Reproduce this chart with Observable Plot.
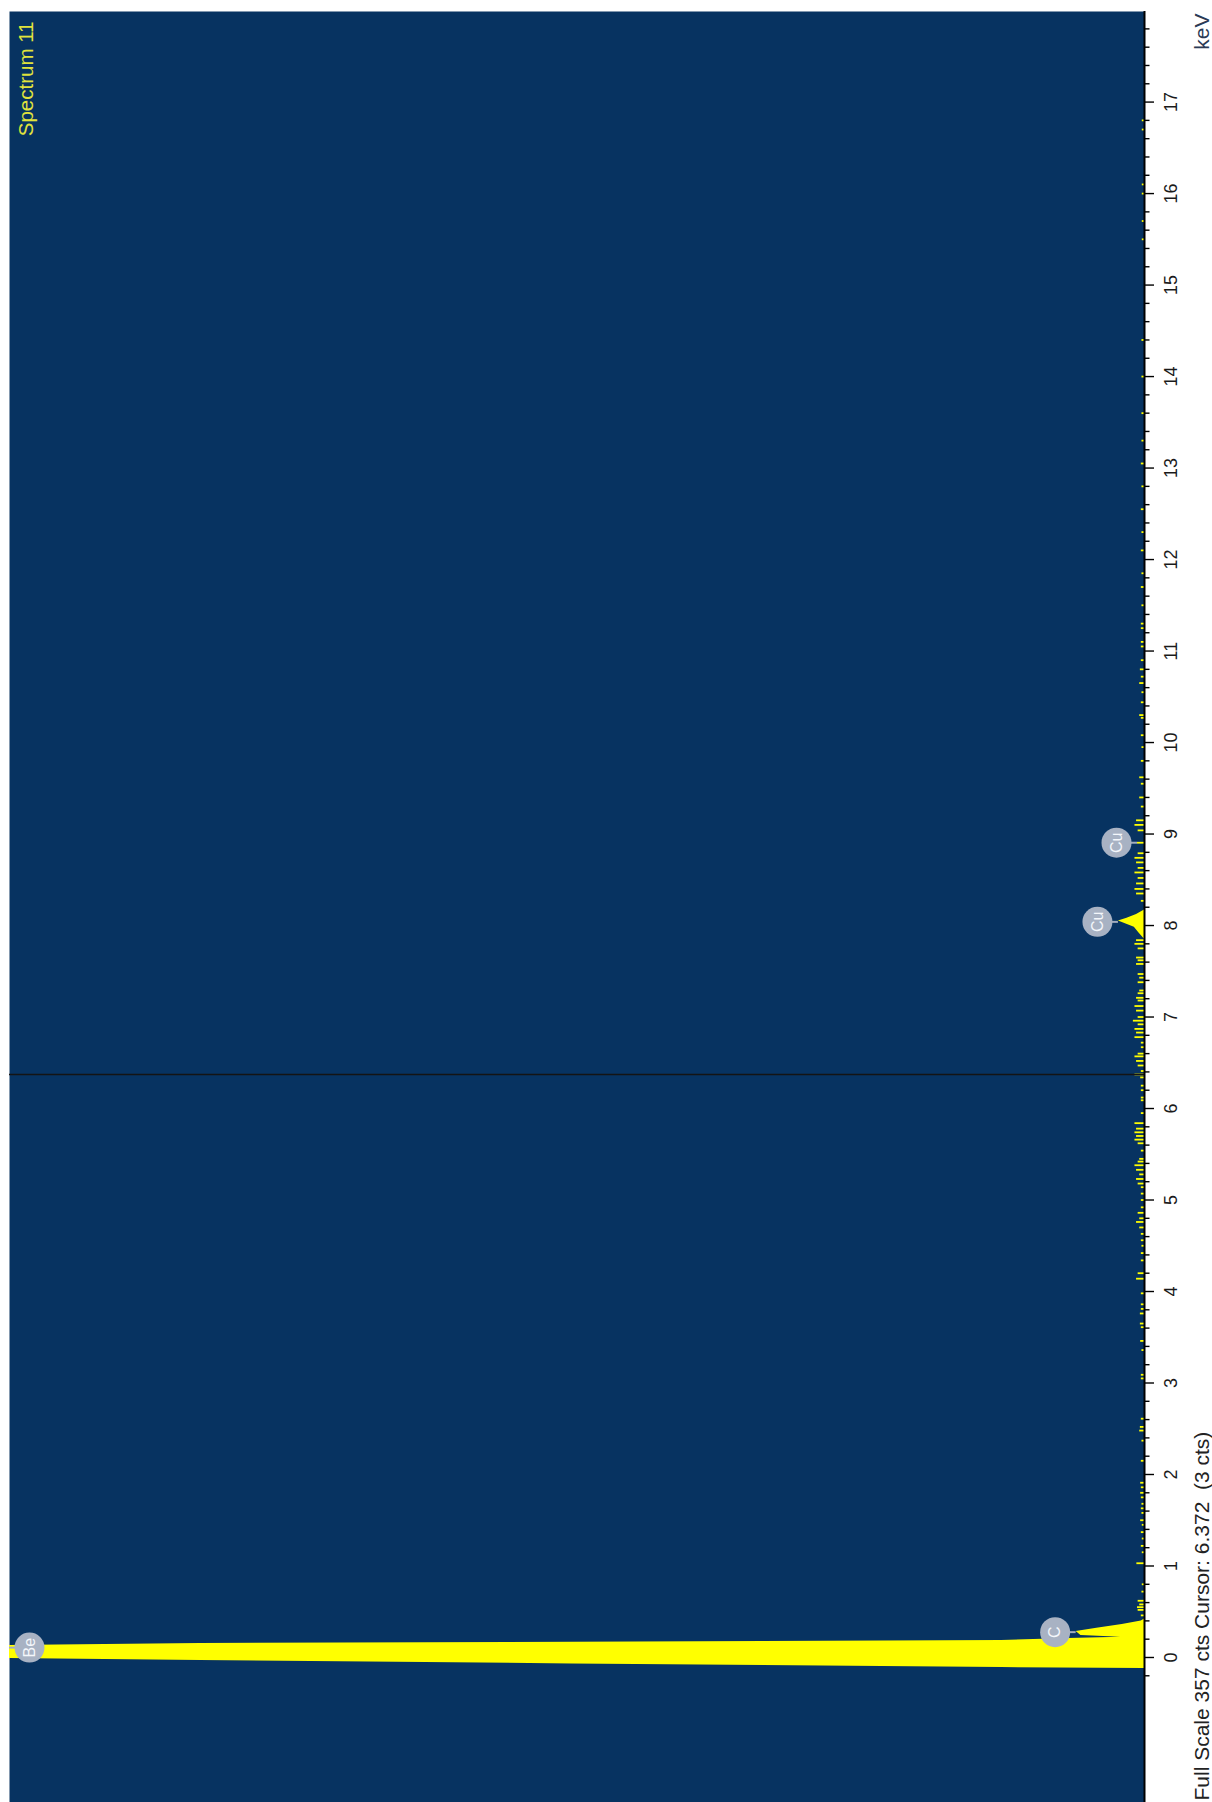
<!DOCTYPE html>
<html>
<head>
<meta charset="utf-8">
<script src="https://cdn.jsdelivr.net/npm/d3@7"></script>
<script src="https://cdn.jsdelivr.net/npm/@observablehq/plot@0.6"></script>
<style>
  html, body { margin: 0; padding: 0; background: #ffffff; }
  #chart svg { display: block; }
</style>
</head>
<body>
<div id="chart"></div>
<script>
// EDS spectrum, drawn turned a quarter turn: energy runs up the page, counts run leftwards.
const spectrumName = "Spectrum 11";
const fullScale = 357;      // cts
const cursorKeV = 6.372;
const cursorCts = 3;

// Continuous trace: zero-energy / Be / C region and the Cu Kα peak
const traceKeV = [-0.20, -0.12, -0.11, -0.07, -0.033, -0.01, 0.03, 0.06, 0.09, 0.13, 0.153, 0.17, 0.186, 0.208, 0.22, 0.24, 0.285, 0.32, 0.36, 0.40, 0.42,
                  7.85, 7.92, 7.98, 8.02, 8.05, 8.08, 8.12, 8.17];
const traceCts = [0, 0, 45, 180, 297, 357, 1400, 2600, 1500, 357, 297, 160, 45, 24, 7.5, 20, 21.5, 15, 7, 1, 0,
                  0, 1.8, 3.2, 6, 8.2, 5.5, 2.5, 0];

// Single-channel background counts
const noiseKeV = [0.46, 0.52, 0.55, 0.58, 0.62, 0.72, 0.80, 1.03, 1.15, 1.22, 1.30, 1.37, 1.45, 1.50, 1.58, 1.63, 1.68, 1.75, 1.80, 1.86,
                  1.91, 2.15, 2.37, 2.48, 2.52, 2.61, 3.05, 3.09, 3.36, 3.46, 3.61, 3.65, 3.76, 3.81, 3.86, 3.98, 4.14, 4.20, 4.34, 4.42,
                  4.50, 4.56, 4.63, 4.70, 4.76, 4.80, 4.86, 4.92, 5.00, 5.07, 5.14, 5.18, 5.23, 5.28, 5.33, 5.38, 5.42, 5.45, 5.54, 5.62,
                  5.66, 5.70, 5.74, 5.78, 5.84, 5.95, 6.09, 6.12, 6.20, 6.25, 6.34, 6.372, 6.41, 6.47, 6.52, 6.57, 6.60, 6.67, 6.72, 6.78,
                  6.83, 6.87, 6.92, 6.96, 7.00, 7.07, 7.12, 7.18, 7.21, 7.26, 7.29, 7.38, 7.43, 7.47, 7.58, 7.62, 7.65, 7.75, 7.80, 7.84,
                  8.27, 8.35, 8.40, 8.46, 8.52, 8.58, 8.63, 8.69, 8.74, 8.79, 8.905, 9.04, 9.10, 9.15, 9.30, 9.40, 9.55, 9.62, 9.80, 9.95,
                  10.08, 10.27, 10.30, 10.44, 10.55, 10.65, 10.72, 10.80, 10.90, 11.05, 11.10, 11.25, 11.30, 11.50, 11.70, 11.85, 12.10, 12.30, 12.55, 12.80,
                  13.05, 13.30, 13.60, 14.00, 14.40, 15.50, 15.70, 16.00, 16.10, 16.70, 16.80];
const noiseCts = [1, 2, 2.2, 1.5, 2, 0.8, 0.7, 2.4, 0.7, 1, 0.7, 1, 0.7, 1.2, 0.8, 1, 0.8, 1, 1.2, 1,
                  1.2, 1, 0.8, 1.5, 1.3, 1, 1, 1, 0.8, 1.2, 1, 1.3, 1.3, 1, 1, 1, 2.5, 2, 1, 1,
                  0.8, 1, 1, 1.5, 2.5, 1.5, 2, 1, 1, 1, 1, 2, 2.5, 1.5, 2.5, 3, 2, 1.5, 1, 2,
                  3, 2.5, 3, 2.5, 3, 1, 1, 1, 1, 1, 1.2, 3, 1, 2, 2.5, 3, 2, 1, 1, 3,
                  2.5, 3, 2, 3.5, 2, 2.5, 3, 2, 2.5, 2, 1.5, 2, 1.5, 2, 2.5, 2, 2.5, 2, 3, 2.5,
                  1, 2.5, 3, 2.5, 2, 3, 2, 2.5, 3, 2, 2.2, 2, 3, 2.5, 1, 1.5, 1, 1.5, 1, 0.8,
                  1, 1, 1.5, 1, 0.8, 1.5, 1, 1.3, 1, 1, 1, 1, 1, 0.8, 1, 0.8, 1, 0.8, 1, 0.8,
                  1, 0.8, 0.8, 0.8, 0.8, 0.7, 0.7, 0.7, 0.7, 0.7, 0.7];

// Identified lines
const lineNames = ["Be", "C", "Cu", "Cu"];
const lineKeV = [0.108, 0.277, 8.040, 8.905];
const lineCts = [357, 21.5, 8.2, 2.2];

// Energy axis ticks (keV)
const majorTicks = [0, 1, 2, 3, 4, 5, 6, 7, 8, 9, 10, 11, 12, 13, 14, 15, 16, 17];
const minorTicks = d3.range(-1, 90).filter(i => i % 5 !== 0).map(i => i / 5);

const trace = traceKeV.map((k, i) => ({keV: k, cts: traceCts[i]}));
const noise = noiseKeV.map((k, i) => ({keV: k, cts: noiseCts[i]}));
const lines = lineNames.map((n, i) => ({name: n, keV: lineKeV[i], cts: lineCts[i]}));

const width = 1212, height = 1802;
const margin = {top: 11, right: 68, bottom: 0, left: 9};
const pxPerCount = (width - margin.left - margin.right) / fullScale;
// marker bubbles sit 21px beyond the peak top; off-scale peaks keep theirs inside the frame
const markerAt = d => d.cts >= fullScale ? fullScale - 20 / pxPerCount : d.cts + 21 / pxPerCount;

const navy = "#073361";
const yellow = "#ffff00";
const font = "'Liberation Sans', Arial, sans-serif";

const footer = `Full Scale ${fullScale} cts Cursor: ${cursorKeV.toFixed(3)}\u00a0\u00a0(${cursorCts} cts)`;

const chart = Plot.plot({
  width, height,
  marginTop: margin.top, marginRight: margin.right, marginBottom: margin.bottom, marginLeft: margin.left,
  x: {domain: [0, fullScale], reverse: true, axis: null, label: null},
  y: {domain: [-1.585, 17.99], axis: null, label: null},
  style: {fontFamily: font, background: "#ffffff", overflow: "visible"},
  marks: [
    Plot.frame({fill: navy, stroke: "none"}),
    Plot.areaX(trace, {y: "keV", x1: 0, x2: "cts", fill: yellow, curve: "linear", clip: true}),
    Plot.ruleY(noise, {y: "keV", x1: 0, x2: "cts", stroke: yellow, strokeWidth: 1.8}),
    Plot.ruleY([cursorKeV], {stroke: "#141414", strokeWidth: 1.5}),
    Plot.ruleX([0], {stroke: "#000000", strokeWidth: 2}),
    Plot.axisY(minorTicks, {anchor: "right", label: null, tickSize: 4.5, tickFormat: () => "", color: "#000000", strokeWidth: 1.4}),
    Plot.axisY(majorTicks, {anchor: "right", label: null, tickSize: 9, tickFormat: () => "", color: "#000000", strokeWidth: 1.4}),
    Plot.axisY(majorTicks, {anchor: "right", label: null, tickSize: 0, tickPadding: 27, tickRotate: -90,
      textAnchor: "middle", lineAnchor: "middle", fontSize: 18, color: "#1a1a1a", tickFormat: d => String(d)}),
    // line markers
    Plot.ruleY(lines, {y: "keV", x1: "cts", x2: markerAt, stroke: "#a3adbd", strokeWidth: 2}),
    Plot.dot(lines, {y: "keV", x: markerAt, r: 15, fill: "#a8b2c3", stroke: "none"}),
    Plot.text(lines, {y: "keV", x: markerAt, text: "name", rotate: -90, fontSize: 16, fill: "#f4f7fb",
      textAnchor: "middle", lineAnchor: "middle"}),
    // titles
    Plot.text([spectrumName], {frameAnchor: "top-left", dx: 23, dy: 10, rotate: -90, textAnchor: "end",
      lineAnchor: "bottom", fontSize: 20.5, fill: "#e0e33c"}),
    Plot.text(["keV"], {frameAnchor: "top-right", dx: 64, dy: 2, rotate: -90, textAnchor: "end",
      lineAnchor: "bottom", fontSize: 21, fill: "#2b3a55"}),
    Plot.text([footer], {frameAnchor: "bottom-right", dx: 64, dy: -2, rotate: -90, textAnchor: "start",
      lineAnchor: "bottom", fontSize: 21, fill: "#222222"})
  ]
});

document.getElementById("chart").appendChild(chart);
</script>
</body>
</html>
